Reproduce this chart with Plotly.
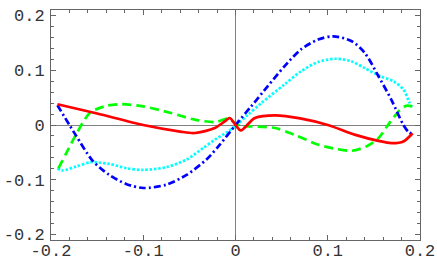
import plotly.graph_objects as go

# Red solid
red_x = [-0.193, -0.15, -0.1, -0.06, -0.044, -0.0225, -0.0116, -0.0062, 0.0, 0.0058, 0.021, 0.043, 0.07, 0.1, 0.13, 0.155, 0.169, 0.182, 0.192]
red_y = [0.038, 0.021, 0.0, -0.012, -0.0146, -0.0055, 0.0066, 0.0128, 0.0, -0.0099, 0.0128, 0.0176, 0.012, 0.0, -0.018, -0.029, -0.033, -0.030, -0.015]

# Green dashed
green_x = [-0.192, -0.183, -0.173, -0.158, -0.14, -0.124, -0.1, -0.07, -0.044, -0.022, -0.008, 0.0, 0.0065, 0.017, 0.043, 0.064, 0.09, 0.11, 0.126, 0.142, 0.155, 0.167, 0.178, 0.185, 0.192]
green_y = [-0.079, -0.05, -0.018, 0.022, 0.035, 0.038, 0.034, 0.022, 0.0097, 0.0055, 0.0115, 0.003, -0.0025, -0.0025, -0.0055, -0.018, -0.036, -0.044, -0.047, -0.039, -0.024, 0.004, 0.027, 0.035, 0.034]

# Blue dash-dot
blue_x = [-0.193, -0.18, -0.173, -0.155, -0.137, -0.118, -0.1, -0.075, -0.053, -0.0315, -0.017, 0.0, 0.017, 0.035, 0.053, 0.071, 0.0895, 0.106, 0.126, 0.14, 0.155, 0.169, 0.182, 0.188, 0.192]
blue_y = [0.036, 0.0, -0.019, -0.065, -0.091, -0.108, -0.115, -0.109, -0.091, -0.063, -0.036, 0.0, 0.034, 0.071, 0.107, 0.138, 0.156, 0.162, 0.153, 0.132, 0.089, 0.046, 0.0, -0.0135, -0.016]

# Cyan dotted
cyan_x = [-0.193, -0.188, -0.173, -0.157, -0.137, -0.118, -0.1, -0.075, -0.053, -0.035, -0.0225, -0.008, 0.001, 0.0137, 0.028, 0.053, 0.071, 0.0895, 0.109, 0.126, 0.14, 0.157, 0.171, 0.182, 0.188, 0.191]
cyan_y = [-0.079, -0.083, -0.076, -0.068, -0.071, -0.079, -0.082, -0.077, -0.063, -0.042, -0.027, -0.0117, 0.0, 0.019, 0.040, 0.074, 0.098, 0.115, 0.121, 0.116, 0.104, 0.089, 0.080, 0.065, 0.043, 0.033]

tick_vals = [-0.2, -0.1, 0, 0.1, 0.2]
tick_text = ["-0.2", "-0.1", "0", "0.1", "0.2"]

fig = go.Figure()
fig.add_trace(go.Scatter(x=cyan_x, y=cyan_y, mode="lines",
                         line=dict(color="#00FFFF", width=2.7, dash="2.5px,1.8px", shape="spline", smoothing=0.8)))
fig.add_trace(go.Scatter(x=green_x, y=green_y, mode="lines",
                         line=dict(color="#00FF00", width=2.7, dash="9px,5px", shape="spline", smoothing=0.8)))
fig.add_trace(go.Scatter(x=blue_x, y=blue_y, mode="lines",
                         line=dict(color="#0000FF", width=2.7, dash="7px,3px,2px,3px", shape="spline", smoothing=0.8)))
fig.add_trace(go.Scatter(x=red_x, y=red_y, mode="lines",
                         line=dict(color="#FF0000", width=2.7, shape="spline", smoothing=0.8)))

axis_common = dict(
    showgrid=False, zeroline=True, zerolinecolor="#808080", zerolinewidth=1,
    showline=True, linecolor="#666666", linewidth=1, mirror="allticks",
    ticks="inside", ticklen=5, tickcolor="#666666", tickwidth=1,
    tickvals=tick_vals, ticktext=tick_text, automargin=False,
    minor=dict(dtick=0.02, ticks="inside", ticklen=3, tickcolor="#666666", tickwidth=1, showgrid=False),
    tickfont=dict(family="Liberation Mono", size=17, color="#333333"),
)
fig.update_xaxes(range=[-0.2, 0.2], ticklabelstandoff=-5, **axis_common)
fig.update_yaxes(range=[-0.21, 0.21], ticklabelstandoff=2, **axis_common)

fig.update_layout(
    width=437, height=270,
    margin=dict(l=51, r=17, t=10, b=30),
    paper_bgcolor="white", plot_bgcolor="white",
    showlegend=False,
)
fig.write_html("out.html", config={"displayModeBar": False},
               post_script="document.body.style.margin='0px';document.body.style.padding='0px';")
